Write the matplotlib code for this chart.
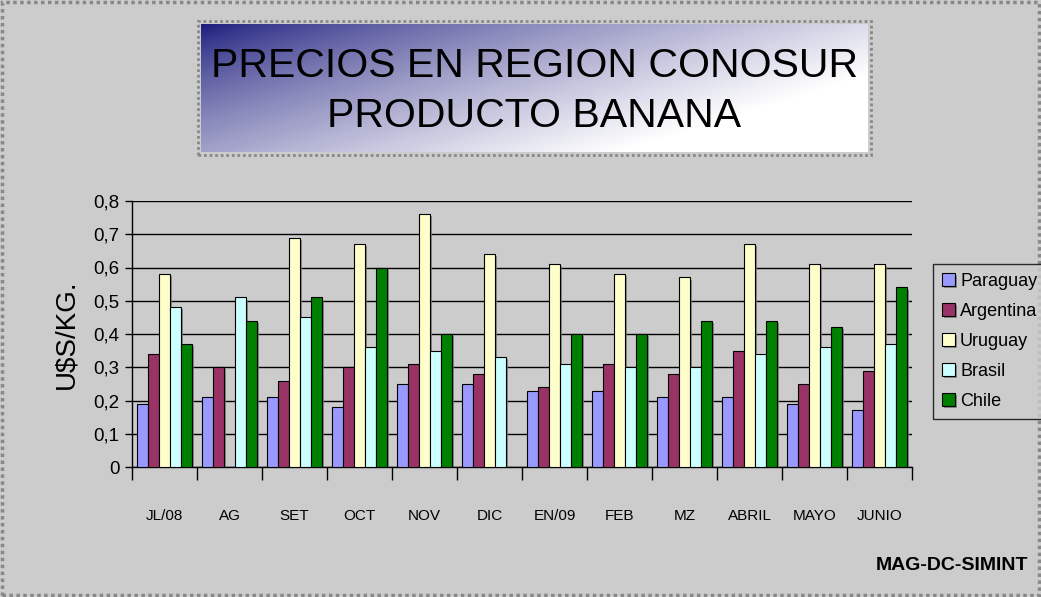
import matplotlib
matplotlib.use("Agg")
import matplotlib.pyplot as plt
import matplotlib.patheffects as pe
from matplotlib.patches import Rectangle
import numpy as np

plt.rcParams['font.family'] = ['Liberation Sans', 'DejaVu Sans']

meses = ['JL/08', 'AG', 'SET', 'OCT', 'NOV', 'DIC', 'EN/09', 'FEB', 'MZ', 'ABRIL', 'MAYO', 'JUNIO']
paraguay = [0.19, 0.21, 0.21, 0.18, 0.25, 0.25, 0.23, 0.23, 0.21, 0.21, 0.19, 0.17]
argentina = [0.34, 0.30, 0.26, 0.30, 0.31, 0.28, 0.24, 0.31, 0.28, 0.35, 0.25, 0.29]
uruguay = [0.58, np.nan, 0.69, 0.67, 0.76, 0.64, 0.61, 0.58, 0.57, 0.67, 0.61, 0.61]
brasil = [0.48, 0.51, 0.45, 0.36, 0.35, 0.33, 0.31, 0.30, 0.30, 0.34, 0.36, 0.37]
chile = [0.37, 0.44, 0.51, 0.60, 0.40, np.nan, 0.40, 0.40, 0.44, 0.44, 0.42, 0.54]

series = [('Paraguay', paraguay, '#9999ff'),
          ('Argentina', argentina, '#993366'),
          ('Uruguay', uruguay, '#ffffcc'),
          ('Brasil', brasil, '#ccffff'),
          ('Chile', chile, '#008000')]

W, H = 1041, 597
fig = plt.figure(figsize=(W / 100, H / 100), dpi=100)
fig.patch.set_facecolor('#cccccc')

# dotted frame round the chart area
fig.patches.append(Rectangle((2 / W, 2 / H), 1 - 4 / W, 1 - 4 / H, transform=fig.transFigure,
                             fill=False, edgecolor='#888888', linewidth=2.5, linestyle=(0, (1, 1))))

# title box with diagonal gradient
tx0, ty0, tx1, ty1 = 201, 24, 868, 152
tax = fig.add_axes([tx0 / W, 1 - ty1 / H, (tx1 - tx0) / W, (ty1 - ty0) / H])
gx, gy = np.meshgrid(np.linspace(0, 1, 300), np.linspace(0, 1, 100))
t = np.clip(gx * 0.8 + gy * 0.5, 0, 1) ** 0.75
dark = np.array([0.09, 0.09, 0.48])
img = dark[None, None, :] * (1 - t[..., None]) + np.ones(3)[None, None, :] * t[..., None]
tax.imshow(img, aspect='auto', extent=[0, 1, 0, 1], origin='upper')
tax.set_xlim(0, 1)
tax.set_ylim(0, 1)
tax.set_xticks([])
tax.set_yticks([])
for s in tax.spines.values():
    s.set_visible(False)
tax.text(0.5, 0.48, 'PRECIOS EN REGION CONOSUR\nPRODUCTO BANANA', ha='center', va='center',
         fontsize=29.5, linespacing=1.4, color='black')
fig.patches.append(Rectangle(((tx0 - 3) / W, 1 - (ty1 + 3) / H), (tx1 - tx0 + 6) / W, (ty1 - ty0 + 6) / H,
                             transform=fig.transFigure, fill=False, edgecolor='#888888',
                             linewidth=2, linestyle=(0, (1, 1))))

# plot area
px0, py0, px1, py1 = 132, 201, 912, 467
ax = fig.add_axes([px0 / W, 1 - py1 / H, (px1 - px0) / W, (py1 - py0) / H])
ax.set_facecolor('#cccccc')

x = np.arange(len(meses))
bw = 0.17
for i, (name, vals, col) in enumerate(series):
    ax.bar(x + (i - 2) * bw, vals, width=bw, color=col, edgecolor='black', linewidth=0.8,
           label=name, zorder=3,
           path_effects=[pe.SimplePatchShadow(offset=(1.5, -1.5), shadow_rgbFace='#777777', alpha=0.8),
                         pe.Normal()])

ax.set_xlim(-0.5, len(meses) - 0.5)
ax.set_ylim(0, 0.8)
ax.set_yticks(np.arange(0, 0.81, 0.1))
ax.set_yticklabels(['0'] + [f'0,{k}' for k in range(1, 9)], fontsize=13.5)
ax.yaxis.grid(True, color='black', linewidth=1, zorder=0)
ax.set_axisbelow(True)
ax.set_xticks(np.arange(-0.5, len(meses), 1.0))
ax.set_xticklabels([])
ax.set_xticks(x, minor=True)
ax.set_xticklabels(meses, minor=True, fontsize=11)
ax.tick_params(axis='x', which='minor', length=0, pad=30)
ax.tick_params(axis='x', which='major', length=9, width=1, direction='out')
ax.tick_params(axis='y', length=5, width=1, direction='out', pad=4)
for side in ['top', 'right']:
    ax.spines[side].set_visible(False)
ax.spines['left'].set_linewidth(1)
ax.spines['bottom'].set_linewidth(1)
ax.set_ylabel('U$S/KG.', fontsize=20, labelpad=10)

leg = fig.legend(loc='upper left', bbox_to_anchor=(933 / W, 1 - 264 / H), fontsize=13,
                 frameon=True, fancybox=False, edgecolor='black', facecolor='#cccccc',
                 handlelength=0.7, handleheight=0.7, handletextpad=0.3, labelspacing=0.72,
                 borderpad=0.5, borderaxespad=0)
leg.get_frame().set_linewidth(1)

fig.text(1028 / W, 1 - 566 / H, 'MAG-DC-SIMINT', ha='right', va='center', fontsize=14, fontweight='bold')

fig.savefig('out.png', dpi=100, facecolor=fig.get_facecolor())
